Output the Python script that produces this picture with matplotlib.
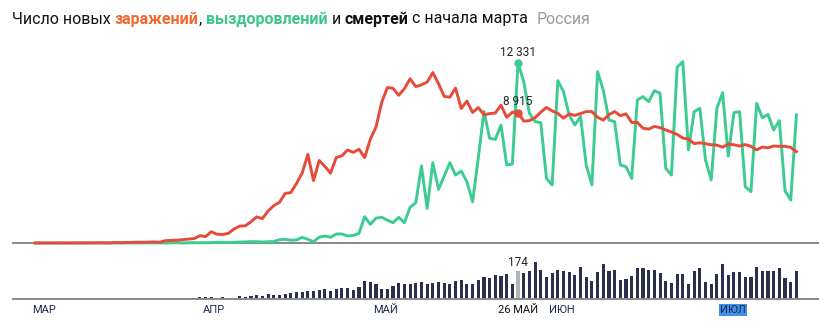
import numpy as np
import pandas as pd
import matplotlib
matplotlib.use("Agg")
import matplotlib.pyplot as plt

plt.rcParams['font.family'] = ['Roboto', 'DejaVu Sans']

# daily figures for Russia, 2 March - 14 July 2020
dates = pd.date_range("2020-03-02", "2020-07-14")

infected = [
    1, 0, 0, 1, 6, 0, 3, 0, 3, 8, 6, 17, 14, 4, 30, 21, 33, 52, 54, 53,
    61, 71, 57, 163, 182, 196, 228, 270, 302, 501,
    440, 771, 601, 582, 658, 954, 1154, 1175, 1459, 1786, 1667, 2186, 2558, 2774, 3388,
    3448, 4070, 4785, 6060, 4268, 5642, 5236, 4774, 5849, 5966, 6361, 6198, 6411, 5841, 7099,
    7933, 9623, 10633, 10581, 10102, 10559, 11231, 10699, 10817, 11012, 11656, 10899, 10028,
    9974, 10598, 9200, 9709, 8926, 9263, 8764, 8849, 8894, 9434, 8599, 8946, 8915, 8338,
    8371, 8572, 8952, 9268,
    9035, 8863, 8536, 8831, 8726, 8855, 8984, 8985, 8595, 8404, 8779, 8987, 8706, 8835, 8246,
    8248, 7843, 7790, 7972, 7889, 7728, 7600, 7425, 7176, 7113, 6800, 6852, 6791, 6719, 6693,
    6556, 6760, 6718, 6632, 6736, 6611, 6368, 6562, 6509, 6635, 6611, 6615, 6537, 6248,
]

recovered = [
    0, 0, 0, 0, 0, 0, 0, 0, 0, 0, 0, 0, 0, 0, 2, 0, 0, 3, 0, 5,
    0, 4, 9, 0, 8, 22, 0, 16, 21, 17,
    21, 22, 45, 48, 34, 45, 66, 74, 93, 90, 66, 90, 96, 224, 250,
    190, 205, 390, 250, 90, 400, 480, 390, 615, 615, 480, 520, 660, 1800, 1280,
    1700, 1760, 1560, 1390, 1760, 1390, 2440, 2760, 5267, 2370, 5490, 3670, 4580,
    5490, 4650, 4920, 4190, 2820, 5810, 9000, 7160, 7090, 8070, 5335, 5400, 12331, 11030,
    8870, 8300, 8230, 4420,
    3970, 11100, 10350, 8760, 8070, 8650, 5335, 3970, 11720, 10465, 8410, 8300, 5335, 5220, 4420,
    9780, 10010, 9670, 10420, 10240, 5110, 4650, 12020, 12400, 6360, 8980, 9210, 5680, 4310, 9210,
    10280, 5950, 8920, 8980, 3850, 3510, 9560, 8570, 8800, 7730, 8370, 3560, 2940, 8760,
]

deaths = [0] * 23 + [
    4, 0, 6, 6, 6, 6, 12,
    10, 10, 8, 12, 6, 6, 17, 12, 19, 25, 17, 29, 25, 27, 33,
    39, 43, 46, 52, 50, 56, 62, 48, 62, 68, 66, 54, 75, 112, 106,
    95, 62, 62, 81, 99,
    91, 91, 99, 104, 91, 97, 108, 97, 95, 112, 118, 95, 93, 116, 135,
    128, 149, 143, 155, 95, 174, 161, 174, 230, 180, 139,
    160, 180, 176, 168, 147, 197, 137, 114, 170, 215, 174, 182, 116, 122, 143,
    193, 193, 180, 180, 161, 110, 97, 153, 153, 93, 176, 193, 106, 95, 155,
    215, 149, 170, 166, 137, 137, 201, 176, 176, 176, 193, 128, 106, 174,
]

month_names = ["МАР", "АПР", "МАЙ", "ИЮН", "ИЮЛ"]
selected = pd.Timestamp("2020-05-26")
selected_label = "26 МАЙ"

RED = "#e64a3a"
GREEN = "#3ccb90"
BARS = "#2b2f4e"
AXIS = "#8a8a8a"

day = (dates - pd.Timestamp("2020-03-01")).days.values
sel = int(np.where(dates == selected)[0][0])

W, H = 825, 332
fig = plt.figure(figsize=(W / 100, H / 100), dpi=100)


def box(x0, y0, x1, y1):
    return [x0 / W, 1 - y1 / H, (x1 - x0) / W, (y1 - y0) / H]


ax = fig.add_axes(box(13, 40, 818, 243))
axd = fig.add_axes(box(13, 255, 818, 299))

for a in (ax, axd):
    a.set_xlim(-2.9, 138.8)
    for s in ("left", "right", "top"):
        a.spines[s].set_visible(False)
    a.spines["bottom"].set_color(AXIS)
    a.spines["bottom"].set_linewidth(1.4)
    a.set_xticks([])
    a.set_yticks([])
    a.patch.set_alpha(0)

ax.set_ylim(0, 13885)
axd.set_ylim(0, 273)

ax.plot(day, recovered, color=GREEN, lw=2.1, zorder=3, clip_on=False, solid_joinstyle="round")
ax.plot(day, infected, color=RED, lw=2.1, zorder=4, clip_on=False, solid_joinstyle="round")

ax.plot(day[sel], recovered[sel], "o", ms=5, color=GREEN, zorder=5)
ax.plot(day[sel], infected[sel], "o", ms=5, color=RED, zorder=5)


def fmt(v):
    return f"{v:,}".replace(",", " ")


ax.annotate(fmt(recovered[sel]), (day[sel], recovered[sel]), xytext=(0, 7.7),
            textcoords="offset points", ha="center", va="center", fontsize=8.5, color="#222222")
ax.annotate(fmt(infected[sel]), (day[sel], infected[sel]), xytext=(0, 7.7),
            textcoords="offset points", ha="center", va="center", fontsize=8.5, color="#222222")

colors = [BARS] * len(deaths)
colors[sel] = "#b3b3bb"
axd.bar(day, deaths, width=0.55, color=colors, zorder=1)
axd.annotate(fmt(deaths[sel]), (day[sel], deaths[sel]), xytext=(0, 5.8),
             textcoords="offset points", ha="center", va="center", fontsize=8.5, color="#222222")

# month labels under the deaths panel
tr = axd.get_xaxis_transform()
firsts = pd.Series(dates).groupby(pd.Series(dates).dt.month).first()
label_y = (299 - 310) / 44
for name, d in zip(month_names, firsts):
    i = (d - pd.Timestamp("2020-03-01")).days
    kw = {}
    if name == "ИЮЛ":
        kw["bbox"] = dict(boxstyle="square,pad=0.12", fc="#3d8fe8", ec="none")
    axd.annotate(name, (i, label_y), xycoords=tr, xytext=(-1.9, 0), textcoords="offset points",
                 ha="left", va="center", fontsize=8, color="#1e2a55", **kw)
axd.annotate(selected_label, (day[sel], label_y), xycoords=tr, ha="center", va="center",
             fontsize=8, color="#111111")

# title assembled from coloured pieces
pieces = [
    ("Число новых", "#111111", "normal", 1),
    ("заражений", "#f2692f", "bold", 0),
    (",", "#111111", "normal", 1),
    ("выздоровлений", "#3dc58d", "bold", 1),
    ("и", "#111111", "normal", 1),
    ("смертей", "#111111", "bold", 1),
    ("с начала марта", "#111111", "normal", 2),
    ("Россия", "#9a9a9a", "normal", 0),
]
fs = 11.5
renderer = fig.canvas.get_renderer()
probe_a = fig.text(0, 0, "xx", fontsize=fs)
probe_b = fig.text(0, 0, "x x", fontsize=fs)
space = probe_b.get_window_extent(renderer).width - probe_a.get_window_extent(renderer).width
probe_a.remove()
probe_b.remove()

x = 12
for txt, col, weight, gaps in pieces:
    t = fig.text(x / W, 1 - 19 / H, txt, color=col, fontweight=weight, fontsize=fs,
                 ha="left", va="center")
    x += t.get_window_extent(renderer).width + gaps * space

fig.savefig("out.png", dpi=100)
